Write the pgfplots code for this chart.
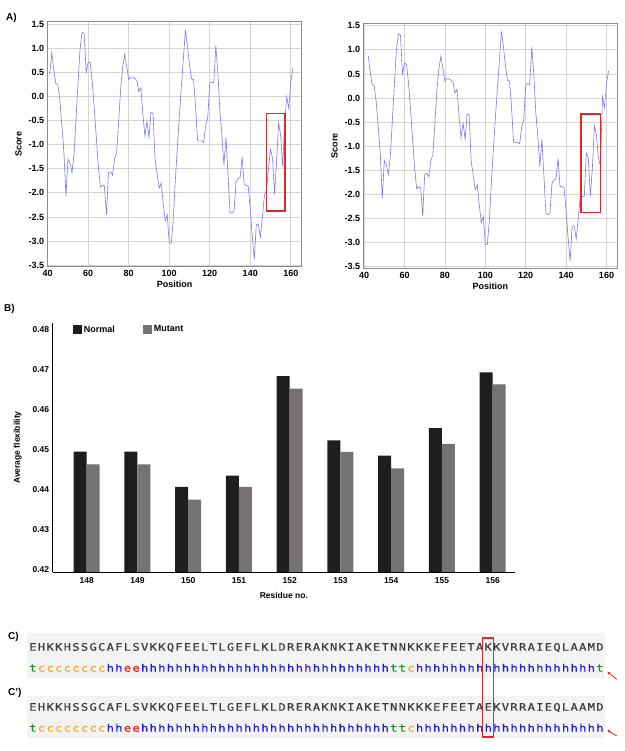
\documentclass[border=0pt]{standalone}
\usepackage{pgfplots}
\pgfplotsset{compat=1.18}
\usepackage{pgfplotstable}
\usepackage{fontspec}
\usetikzlibrary{arrows.meta}
\setmainfont{Liberation Sans}
\newfontfamily\seqfont[FakeStretch=1.18, FakeBold=0.35]{DejaVu Sans Mono}

\definecolor{curvecol}{RGB}{120,120,240}
\definecolor{gridgray}{RGB}{212,212,212}
\definecolor{framegray}{RGB}{140,140,140}
\definecolor{redbox}{RGB}{225,40,40}
\definecolor{barblack}{RGB}{30,30,30}
\definecolor{bargray}{RGB}{118,114,114}
\definecolor{seqgray}{RGB}{60,60,60}
\definecolor{tg}{RGB}{30,140,30}
\definecolor{co}{RGB}{245,170,40}
\definecolor{hb}{RGB}{30,30,220}
\definecolor{er}{RGB}{230,30,30}
\definecolor{band}{RGB}{243,243,243}

\pgfplotstableread{
pos val
41 0.45
42 0.9
43 0.55
44 0.27
45 0.25
46 -0.08
47 -0.6
48 -1.15
49 -2.07
50 -1.3
51 -1.38
52 -1.58
53 -1.2
54 -0.45
55 0.3
56 1.0
57 1.33
58 1.3
59 0.5
60 0.72
61 0.7
62 0.3
63 -0.25
64 -0.85
65 -1.45
66 -1.88
67 -1.84
68 -1.86
69 -2.45
70 -1.58
71 -1.56
72 -1.63
73 -1.3
74 -1.18
75 -0.55
76 0.15
77 0.6
78 0.87
79 0.62
80 0.35
81 0.4
82 0.4
83 0.37
84 0.33
85 0.1
86 0.18
87 -0.38
88 -0.82
89 -0.52
90 -0.85
91 -0.33
92 -0.35
93 -1.3
94 -1.6
95 -1.9
96 -1.8
97 -2.2
98 -2.58
99 -2.45
100 -3.04
101 -3.04
102 -2.55
103 -1.75
104 -1.05
105 -0.4
106 0.2
107 0.8
108 1.38
109 1.05
110 0.65
111 0.37
112 0.35
113 -0.2
114 -0.92
115 -0.92
116 -0.92
117 -0.95
118 -0.6
119 -0.45
120 0.27
121 0.3
122 0.28
123 1.05
124 0.5
125 -0.3
126 -0.8
127 -1.42
128 -0.85
129 -1.6
130 -2.4
131 -2.42
132 -2.38
133 -1.77
134 -1.7
135 -1.68
136 -1.25
137 -1.83
138 -1.84
139 -1.86
140 -2.35
141 -2.9
142 -3.38
143 -2.65
144 -2.65
145 -2.92
146 -2.5
147 -2.05
148 -1.95
149 -1.5
150 -1.1
151 -1.28
152 -2.02
153 -1.35
154 -0.55
155 -0.8
156 -1.45
157 -0.55
158 0.0
159 -0.25
160 0.3
161 0.58
}\leftcurve

\pgfplotstableread{
pos val
42 0.88
43 0.55
44 0.27
45 0.25
46 -0.08
47 -0.6
48 -1.15
49 -2.07
50 -1.3
51 -1.38
52 -1.58
53 -1.2
54 -0.45
55 0.3
56 1.0
57 1.33
58 1.3
59 0.5
60 0.72
61 0.7
62 0.3
63 -0.25
64 -0.85
65 -1.45
66 -1.88
67 -1.84
68 -1.86
69 -2.45
70 -1.58
71 -1.56
72 -1.63
73 -1.3
74 -1.18
75 -0.55
76 0.15
77 0.6
78 0.87
79 0.62
80 0.35
81 0.4
82 0.4
83 0.37
84 0.33
85 0.1
86 0.18
87 -0.38
88 -0.82
89 -0.52
90 -0.85
91 -0.33
92 -0.35
93 -1.3
94 -1.6
95 -1.9
96 -1.8
97 -2.2
98 -2.58
99 -2.45
100 -3.04
101 -3.04
102 -2.55
103 -1.75
104 -1.05
105 -0.4
106 0.2
107 0.8
108 1.38
109 1.05
110 0.65
111 0.37
112 0.35
113 -0.2
114 -0.92
115 -0.92
116 -0.92
117 -0.95
118 -0.6
119 -0.45
120 0.27
121 0.3
122 0.28
123 1.05
124 0.5
125 -0.3
126 -0.8
127 -1.42
128 -0.85
129 -1.6
130 -2.4
131 -2.42
132 -2.38
133 -1.77
134 -1.7
135 -1.68
136 -1.25
137 -1.83
138 -1.84
139 -1.86
140 -2.35
141 -2.9
142 -3.38
143 -2.65
144 -2.65
145 -2.92
146 -2.5
147 -2.05
148 -2.04
149 -2.04
150 -1.14
151 -1.25
152 -2.04
153 -1.45
154 -0.58
155 -0.76
156 -1.25
157 -1.4
158 0.02
159 -0.2
160 0.3
161 0.56
}\rightcurve

\pgfplotstableread{
idx normal mutant
0 0.4495 0.4463
1 0.4495 0.4463
2 0.4407 0.4375
3 0.4435 0.4407
4 0.4683 0.4652
5 0.4523 0.4494
6 0.4485 0.4453
7 0.4553 0.4514
8 0.4692 0.4662
}\bardata

\pgfplotsset{
  panelA/.style={
    scale only axis,
    ymin=-3.53, ymax=1.55,
    xtick={40,60,80,100,120,140,160},
    ytick={-3.5,-3,-2.5,-2,-1.5,-1,-0.5,0,0.5,1,1.5},
    grid=major,
    grid style={draw=gridgray, line width=0.8pt},
    axis line style={draw=framegray, line width=0.8pt},
    major tick length=0pt,
    /pgf/number format/assume math mode=true,
    tick label style={font=\bfseries\fontsize{9}{10}\selectfont},
    yticklabel style={/pgf/number format/fixed, /pgf/number format/fixed zerofill, /pgf/number format/precision=1},
    xticklabel style={/pgf/number format/fixed, /pgf/number format/precision=0},
    label style={font=\bfseries\fontsize{9}{10}\selectfont},
    xlabel={Position}, ylabel={Score},
    xlabel style={yshift=2pt},
  }
}

\newcommand{\seqfnt}{\seqfont\fontsize{10.3}{12}\selectfont}
\newcommand{\run}[5]{\foreach \i in {#1,...,#2} {\node[anchor=base, inner sep=0pt, text=#4, font=\seqfnt] at ({33pt+(\i-1)*8.59pt},#5) {#3};}}

\begin{document}
\begin{tikzpicture}
\path[use as bounding box] (0pt,0pt) rectangle (624pt,751pt);

% ---------------- Panel A left
\begin{axis}[panelA, at={(47.7pt,484.3pt)}, anchor=south west,
  width=254pt, height=245pt, xmin=40, xmax=165.4]
  \addplot[curvecol, line width=0.6pt, mark=none] table[x=pos, y=val] {\leftcurve};
  \draw[redbox, line width=1.6pt] (axis cs:148.1,-0.35) rectangle (axis cs:157.2,-2.38);
\end{axis}

% ---------------- Panel A right
\begin{axis}[panelA, at={(363.7pt,482.7pt)}, anchor=south west,
  width=253.3pt, height=245pt, xmin=39.8, xmax=165.2]
  \addplot[curvecol, line width=0.6pt, mark=none] table[x=pos, y=val] {\rightcurve};
  \draw[redbox, line width=1.6pt] (axis cs:147.5,-0.33) rectangle (axis cs:157.1,-2.37);
\end{axis}

\node[anchor=base west, inner sep=0pt, font=\bfseries\fontsize{10}{12}\selectfont] at (6pt,730.3pt) {A)};

% ---------------- Panel B
\begin{axis}[at={(52.7pt,178.7pt)}, anchor=south west, scale only axis,
  width=462.3pt, height=249.6pt,
  ybar=0pt, bar width=13pt,
  xmin=-0.67, xmax=8.44, ymin=0.4194, ymax=0.4816,
  axis lines=left, axis line style={-, line width=1.1pt, black},
  axis on top,
  xtick={0,1,2,3,4,5,6,7,8},
  xticklabels={148,149,150,151,152,153,154,155,156},
  ytick={0.42,0.43,0.44,0.45,0.46,0.47,0.48},
  major tick length=0pt,
  /pgf/number format/assume math mode=true,
  yticklabel style={/pgf/number format/fixed, /pgf/number format/fixed zerofill, /pgf/number format/precision=2},
  tick label style={font=\bfseries\fontsize{8.5}{10}\selectfont},
  xticklabel style={yshift=-2pt},
  label style={font=\bfseries\fontsize{8.5}{10}\selectfont},
  xlabel={Residue no.}, ylabel={Average flexibility},
  xlabel style={yshift=-2pt},
  ylabel style={yshift=4pt},
  legend style={at={(axis description cs:0.043,0.997)}, anchor=north west,
    draw=none, fill=none, inner sep=0pt,
    font=\bfseries\fontsize{9}{10}\selectfont,
    /tikz/every even column/.append style={column sep=26pt}},
  legend columns=2,
]
  \addplot[fill=barblack, draw=none,
    legend image code/.code={\fill[barblack] (0pt,-4.5pt) rectangle (9pt,4.5pt);}]
    table[x=idx, y=normal] {\bardata};
  \addplot[fill=bargray, draw=none,
    legend image code/.code={\fill[bargray] (0pt,-4.5pt) rectangle (9pt,4.5pt);}]
    table[x=idx, y=mutant] {\bardata};
  \legend{Normal, Mutant}
\end{axis}

\node[anchor=base west, inner sep=0pt, font=\bfseries\fontsize{10}{12}\selectfont] at (4pt,439.3pt) {B)};

% ---------------- Panel C
\fill[band] (26.7pt,73pt) rectangle (605pt,118pt);
\fill[band] (26.7pt,13pt) rectangle (605pt,55pt);

\node[anchor=base west, inner sep=0pt, font=\bfseries\fontsize{10}{12}\selectfont] at (8pt,111pt) {C)};
\node[anchor=base west, inner sep=0pt, font=\bfseries\fontsize{10}{12}\selectfont] at (8pt,55.5pt) {C')};

\foreach \ch [count=\i] in {E,H,K,K,H,S,S,G,C,A,F,L,S,V,K,K,Q,F,E,E,L,T,L,G,E,F,L,K,L,D,R,E,R,A,K,N,K,I,A,K,E,T,N,N,K,K,K,E,F,E,E,T,A,K,K,V,R,R,A,I,E,Q,L,A,A,M,D}
  {\node[anchor=base, inner sep=0pt, text=seqgray, font=\seqfnt] at ({33pt+(\i-1)*8.59pt},100.3pt) {\ch};}
\foreach \ch [count=\i] in {E,H,K,K,H,S,S,G,C,A,F,L,S,V,K,K,Q,F,E,E,L,T,L,G,E,F,L,K,L,D,R,E,R,A,K,N,K,I,A,K,E,T,N,N,K,K,K,E,F,E,E,T,A,E,K,V,R,R,A,I,E,Q,L,A,A,M,D}
  {\node[anchor=base, inner sep=0pt, text=seqgray, font=\seqfnt] at ({33pt+(\i-1)*8.59pt},40.3pt) {\ch};}

% secondary structure line C
\run{1}{1}{t}{tg}{79.3pt}
\run{2}{9}{c}{co}{79.3pt}
\run{10}{11}{h}{hb}{79.3pt}
\run{12}{13}{e}{er}{79.3pt}
\run{14}{42}{h}{hb}{79.3pt}
\run{43}{44}{t}{tg}{79.3pt}
\run{45}{45}{c}{co}{79.3pt}
\run{46}{66}{h}{hb}{79.3pt}
\run{67}{67}{t}{tg}{79.3pt}
% secondary structure line C'
\run{1}{1}{t}{tg}{19.3pt}
\run{2}{9}{c}{co}{19.3pt}
\run{10}{11}{h}{hb}{19.3pt}
\run{12}{13}{e}{er}{19.3pt}
\run{14}{42}{h}{hb}{19.3pt}
\run{43}{44}{t}{tg}{19.3pt}
\run{45}{45}{c}{co}{19.3pt}
\run{46}{67}{h}{hb}{19.3pt}

\draw[redbox, line width=1.4pt] (482.7pt,14pt) rectangle (493.3pt,113pt);
\draw[redbox, line width=0.8pt, -{Stealth[length=3pt,width=3pt]}] (616.7pt,71.7pt) -- (607.3pt,79.3pt);
\draw[redbox, line width=0.8pt, -{Stealth[length=3pt,width=3pt]}] (616.7pt,15pt) -- (607.3pt,21pt);
\end{tikzpicture}
\end{document}
